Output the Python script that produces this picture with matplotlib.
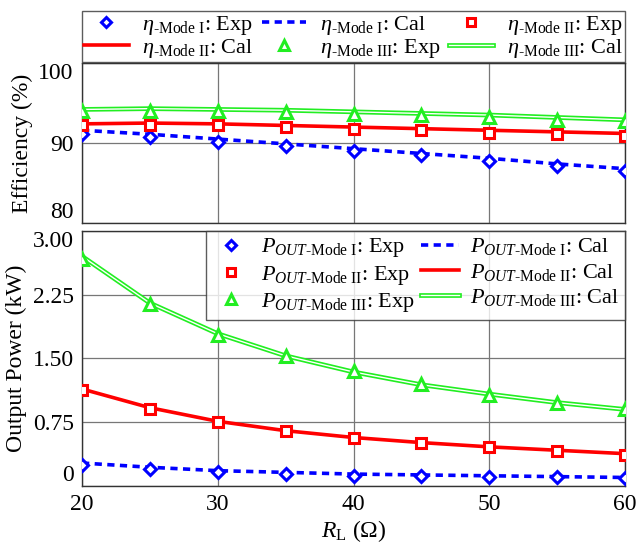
import matplotlib
matplotlib.use("Agg")
import matplotlib.pyplot as plt
from matplotlib.font_manager import FontProperties
from matplotlib.legend_handler import HandlerTuple

SERIF = 'Liberation Serif'
plt.rcParams['font.family'] = 'serif'
plt.rcParams['font.serif'] = [SERIF, 'DejaVu Serif']
plt.rcParams['mathtext.fontset'] = 'custom'
plt.rcParams['mathtext.rm'] = SERIF
plt.rcParams['mathtext.it'] = SERIF + ':italic'
plt.rcParams['mathtext.bf'] = SERIF + ':bold'

# load resistance (ohm)
R_L = [20, 25, 30, 35, 40, 45, 50, 55, 60]

# efficiency (%)
eta1_exp = [91.1, 90.7, 90.1, 89.6, 89.0, 88.5, 87.8, 87.2, 86.5]
eta1_cal = [91.6, 91.1, 90.5, 89.9, 89.3, 88.7, 88.1, 87.4, 86.8]
eta2_exp = [92.3, 92.3, 92.2, 92.0, 91.8, 91.6, 91.3, 91.15, 90.9]
eta2_cal = [92.4, 92.5, 92.4, 92.2, 92.0, 91.8, 91.6, 91.4, 91.2]
eta3_exp = [94.0, 94.0, 94.0, 93.9, 93.6, 93.45, 93.2, 92.9, 92.8]
eta3_cal = [94.2, 94.3, 94.2, 94.1, 93.9, 93.7, 93.5, 93.2, 92.9]

# output power (kW)
p1_exp = [0.25, 0.20, 0.16, 0.14, 0.12, 0.12, 0.11, 0.10, 0.09]
p1_cal = [0.27, 0.22, 0.18, 0.16, 0.14, 0.13, 0.12, 0.11, 0.10]
p2_exp = [1.13, 0.905, 0.75, 0.65, 0.56, 0.50, 0.46, 0.41, 0.37]
p2_cal = [1.14, 0.92, 0.76, 0.65, 0.57, 0.51, 0.46, 0.42, 0.38]
p3_exp = [2.67, 2.14, 1.78, 1.53, 1.35, 1.20, 1.07, 0.98, 0.90]
p3_cal = [2.70, 2.15, 1.79, 1.53, 1.34, 1.19, 1.08, 0.98, 0.90]

eta_ticks = [80, 90, 100]
eta_ticklabels = ['80', '90', '100']
p_ticks = [0, 0.75, 1.5, 2.25, 3.0]
p_ticklabels = ['0', '0.75', '1.50', '2.25', '3.00']
x_ticks = [20, 30, 40, 50, 60]
x_ticklabels = ['20', '30', '40', '50', '60']

BLUE = '#0000ff'
RED = '#ff0000'
GREEN = '#22ee22'

fp = FontProperties(family=SERIF, size=17)
fp_leg = FontProperties(family=SERIF, size=16)

fig = plt.figure(figsize=(6.41, 5.43), dpi=100)
ax1 = fig.add_axes([0.128, 0.589, 0.847, 0.295])
ax2 = fig.add_axes([0.128, 0.105, 0.847, 0.470])


def draw(ax, y1e, y1c, y2e, y2c, y3e, y3c):
    h = {}
    h['c1'], = ax.plot(R_L, y1c, color=BLUE, lw=2.6, ls=(0, (2.0, 1.5)), zorder=3)
    h['c2'], = ax.plot(R_L, y2c, color=RED, lw=2.6, zorder=3)
    g, = ax.plot(R_L, y3c, color=GREEN, lw=3.4, zorder=3)
    w, = ax.plot(R_L, y3c, color='white', lw=1.0, zorder=3)
    h['c3'] = (g, w)
    h['e1'], = ax.plot(R_L, y1e, ls='none', marker='D', ms=6.5, mew=2.2,
                       mec=BLUE, mfc='white', zorder=4)
    h['e2'], = ax.plot(R_L, y2e, ls='none', marker='s', ms=6.5, mew=2.2,
                       mec=RED, mfc='white', zorder=4)
    h['e3'], = ax.plot(R_L, y3e, ls='none', marker='^', ms=8.5, mew=2.2,
                       mec=GREEN, mfc='white', zorder=4)
    return h


def style(ax, ticks, labels, ylim):
    ax.set_xlim(20, 60)
    ax.set_ylim(*ylim)
    ax.set_xticks(x_ticks)
    ax.set_xticklabels(x_ticklabels, fontproperties=fp)
    ax.set_yticks(ticks)
    ax.set_yticklabels(labels, fontproperties=fp)
    tl = ax.get_yticklabels()
    tl[0].set_va('bottom')
    tl[-1].set_va('top')
    ax.tick_params(length=0, pad=6)
    ax.grid(True, color='#777777', lw=0.9)
    ax.set_axisbelow(True)
    for s in ax.spines.values():
        s.set_color('#333333')
        s.set_linewidth(1.0)


h1 = draw(ax1, eta1_exp, eta1_cal, eta2_exp, eta2_cal, eta3_exp, eta3_cal)
style(ax1, eta_ticks, eta_ticklabels, (80, 100))
ax1.tick_params(labelbottom=False)
ax1.set_ylabel('Efficiency (%)', fontproperties=fp, labelpad=4)

h2 = draw(ax2, p1_exp, p1_cal, p2_exp, p2_cal, p3_exp, p3_cal)
style(ax2, p_ticks, p_ticklabels, (0, 3.0))
ax2.set_ylabel('Output Power (kW)', fontproperties=fp, labelpad=4)
ax2.set_xlabel(r'$R_{\mathrm{L}}$ ($\Omega$)', fontproperties=fp, labelpad=2)

tup = {tuple: HandlerTuple(ndivide=1, pad=0)}

# top legend: row-wise order, 3 columns
eta_lab = {
    'e1': r'$\eta_{\text{-Mode I}}$: Exp', 'c1': r'$\eta_{\text{-Mode I}}$: Cal',
    'e2': r'$\eta_{\text{-Mode II}}$: Exp', 'c2': r'$\eta_{\text{-Mode II}}$: Cal',
    'e3': r'$\eta_{\text{-Mode III}}$: Exp', 'c3': r'$\eta_{\text{-Mode III}}$: Cal',
}
order1 = ['e1', 'c2', 'c1', 'e3', 'e2', 'c3']
leg1 = fig.legend([h1[k] for k in order1], [eta_lab[k] for k in order1],
                  loc='lower left', bbox_to_anchor=(0.128, 0.886, 0.847, 0.105),
                  mode='expand', ncol=3, prop=fp_leg, frameon=True, fancybox=False,
                  edgecolor='#333333', borderpad=0.1, labelspacing=0.0,
                  handlelength=2.0, handletextpad=0.6, columnspacing=0.3,
                  borderaxespad=0, markerscale=0.85, handler_map=tup)
leg1.get_frame().set_linewidth(1.0)

p_lab = {
    'e1': r'$P_{OUT\text{-Mode I}}$: Exp', 'c1': r'$P_{OUT\text{-Mode I}}$: Cal',
    'e2': r'$P_{OUT\text{-Mode II}}$: Exp', 'c2': r'$P_{OUT\text{-Mode II}}$: Cal',
    'e3': r'$P_{OUT\text{-Mode III}}$: Exp', 'c3': r'$P_{OUT\text{-Mode III}}$: Cal',
}
order2 = ['e1', 'e2', 'e3', 'c1', 'c2', 'c3']
leg2 = ax2.legend([h2[k] for k in order2], [p_lab[k] for k in order2],
                  loc='upper right', bbox_to_anchor=(1.0, 1.0), ncol=2,
                  prop=fp_leg, frameon=True, fancybox=False, edgecolor='#333333',
                  borderpad=0.25, labelspacing=0.2, handlelength=1.7,
                  handletextpad=0.5, columnspacing=0.3, borderaxespad=0,
                  markerscale=0.85, handler_map=tup)
leg2.get_frame().set_linewidth(1.0)

fig.savefig('out.png', dpi=100, facecolor='white')
